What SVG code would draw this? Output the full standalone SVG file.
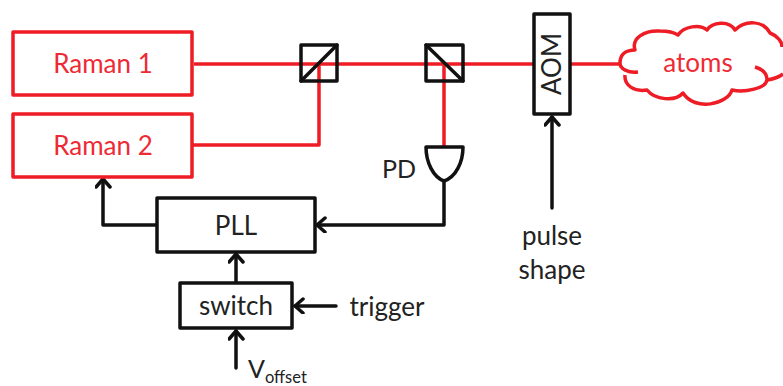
<svg xmlns="http://www.w3.org/2000/svg" width="783" height="386" viewBox="0 0 783 386">
<style>
text{font-family:Lato,"Open Sans","Liberation Sans",sans-serif}
.k{fill:#222;font-size:26px;text-anchor:middle}
.r{fill:#ee2a35;font-size:26px;text-anchor:middle}
.rb{fill:#fff;stroke:#ee1c25;stroke-width:3.5;stroke-linejoin:round}
.kb{fill:#fff;stroke:#111;stroke-width:3.5;stroke-linejoin:round}
.rl{fill:none;stroke:#ee1c25;stroke-width:3.5;stroke-linejoin:round}
.kl{fill:none;stroke:#111;stroke-width:3.5;stroke-linejoin:round;stroke-linecap:round}
</style>
<defs>
<marker id="a" markerUnits="userSpaceOnUse" markerWidth="18" markerHeight="18" refX="14" refY="8" orient="auto">
<path d="M6 1L14 8L6 15" fill="none" stroke="#111" stroke-width="3.5" stroke-linecap="round" stroke-linejoin="round"/>
</marker>
</defs>
<g id="connectors">
<path class="rl" d="M194 64H620"/>
<path class="rl" d="M192 145H319V64"/>
<path class="rl" d="M444 64V146"/>
<path class="kl" d="M157 225H103V179" marker-end="url(#a)"/>
<path class="kl" d="M444 182V225H317" marker-end="url(#a)"/>
<path class="kl" d="M236 283V254" marker-end="url(#a)"/>
<path class="kl" d="M336 306H295" marker-end="url(#a)"/>
<path class="kl" d="M236 368V331" marker-end="url(#a)"/>
<path class="kl" d="M552 208V117" marker-end="url(#a)"/>
</g>
<g id="raman1"><rect class="rb" x="13" y="32" width="179" height="63"/><text class="r" x="103" y="73">Raman 1</text></g>
<g id="raman2"><rect class="rb" x="13" y="114" width="179" height="63"/><text class="r" x="103" y="155">Raman 2</text></g>
<g id="bs1"><rect x="301" y="45" width="36" height="36" fill="none" stroke="#111" stroke-width="3.5" stroke-linejoin="round"/><path class="kl" d="M301 81L337 45"/></g>
<g id="bs2"><rect x="426" y="45" width="37" height="36" fill="none" stroke="#111" stroke-width="3.5" stroke-linejoin="round"/><path class="kl" d="M426 45L463 81"/></g>
<g id="aom"><rect class="kb" x="534" y="14" width="36" height="100"/><text class="k" transform="translate(561 64) rotate(-90)">AOM</text></g>
<g id="pd"><path class="kb" d="M426 147H463C463 162 456 177 444 181C433 177 426 162 426 147Z"/><text class="k" x="399" y="178" style="font-size:25px">PD</text></g>
<g id="atoms">
<path fill="#fff" d="M620 63C620 54 626 50 635 50C631 38 645 30 660 31C668 31 675 33 678 35C684 26 700 24 707 30C712 22 729 20 735 30C745 20 763 20 770 33C778 36 783 42 783 48V78L767 80C766 88 745 93 732 90C728 104 695 112 683 93C675 102 655 100 647 90C635 92 624 86 625 75C620 72 620 68 620 63Z"/>
<path class="rl" d="M638 72C628 73 620 69 620 63C620 54 626 50 635 50C631 38 645 30 660 31C668 31 675 33 678 35C684 26 700 24 707 30C712 22 729 20 735 30C745 20 763 20 770 33C778 36 782 42 782 47"/>
<path class="rl" d="M755 67C762 69 767 73 767 80C766 88 745 93 732 90C728 104 695 112 683 93C675 102 655 100 647 90C635 92 624 86 625 75"/>
<path class="rl" d="M767 80C774 79 779 77 783 74"/>
<text class="r" x="698" y="72">atoms</text>
</g>
<g id="pll"><rect class="kb" x="157" y="198" width="158" height="54"/><text class="k" x="236" y="235">PLL</text></g>
<g id="switch"><rect class="kb" x="180" y="283" width="112" height="45"/><text class="k" x="236" y="315">switch</text></g>
<g id="labels">
<text class="k" x="387" y="316">trigger</text>
<text class="k" x="552" y="245">pulse</text>
<text class="k" x="552" y="279">shape</text>
<text fill="#222" font-size="25" x="248" y="378">V<tspan font-size="16.5" dy="5">offset</tspan></text>
</g>
</svg>
